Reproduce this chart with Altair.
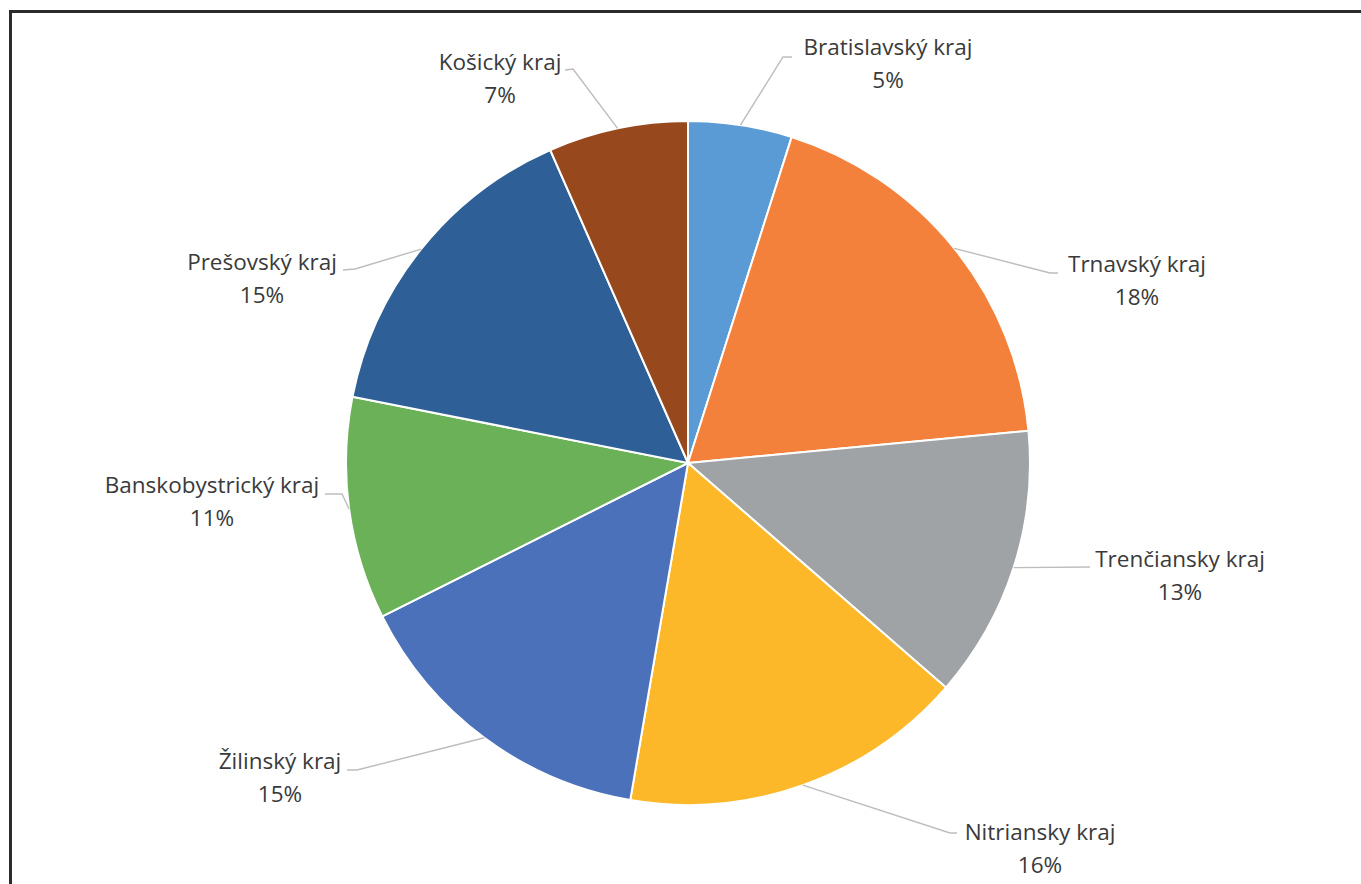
import math
import altair as alt
import pandas as pd

# ---- data ----
regions = ["Bratislavský kraj", "Trnavský kraj", "Trenčiansky kraj", "Nitriansky kraj",
           "Žilinský kraj", "Banskobystrický kraj", "Prešovský kraj", "Košický kraj"]
shares = [4.9, 18.6, 12.9, 16.3, 14.9, 10.5, 15.3, 6.6]
pct_labels = ["5%", "18%", "13%", "16%", "15%", "11%", "15%", "7%"]
colors = ["#5B9BD5", "#F3813B", "#A0A3A6", "#FCB829", "#4A71B9", "#6AB158", "#2E5F96", "#97491D"]

# ---- layout (pixels, relative to the pie centre; y grows downward) ----
W, H = 1361, 884
CX, CY = 688, 463
R = 342
label_pos = [(200, -408), (449, -191), (492, 104), (352, 377),
             (-408, 306), (-476, 30), (-426, -193), (-188, -393)]
elbow_pos = [(95, -406), (362, -190), (402, 104), (262, 370),
             (-331, 307), (-346, 31), (-333, -194), (-115, -394)]
tail_pos = [(104, -406), (370, -190), (402, 104), (269, 370),
            (-341, 307), (-363, 31), (-345, -193), (-123, -393)]

total = sum(shares)
pie = pd.DataFrame({"region": regions, "share": shares, "idx": range(len(regions))})

# leader line starts at the slice mid-angle on the rim
rows, lab_rows = [], []
cum = 0.0
for i, (reg, s) in enumerate(zip(regions, shares)):
    mid = (cum + s / 2) / total * 2 * math.pi
    cum += s
    sx, sy = R * math.sin(mid), -R * math.cos(mid)
    pts = [(sx, sy), elbow_pos[i], tail_pos[i]]
    for k, (px, py) in enumerate(pts):
        rows.append({"region": reg, "k": k, "px": px, "py": py})
    lab_rows.append({"region": reg, "px": label_pos[i][0], "py": label_pos[i][1],
                     "txt": reg + "\n" + pct_labels[i]})
leaders = pd.DataFrame(rows)
labels = pd.DataFrame(lab_rows)

xs = alt.Scale(domain=[-CX, W - CX], range=[0, W])
ys = alt.Scale(domain=[-CY, H - CY], range=[0, H])

arcs = alt.Chart(pie).mark_arc(radius=R, stroke="white", strokeWidth=2).encode(
    theta=alt.Theta("share:Q", stack=True),
    order=alt.Order("idx:Q"),
    color=alt.Color("region:N", scale=alt.Scale(domain=regions, range=colors), legend=None),
    x=alt.value(CX),
    y=alt.value(CY),
)

lines = alt.Chart(leaders).mark_line(color="#BDBDBD", strokeWidth=1.4).encode(
    x=alt.X("px:Q", scale=xs, axis=None),
    y=alt.Y("py:Q", scale=ys, axis=None),
    detail="region:N",
    order="k:Q",
)

texts = alt.Chart(labels).mark_text(
    font="Open Sans", fontSize=22.5, color="#3A3A3A", align="center",
    baseline="alphabetic", lineBreak="\n", lineHeight=33,
).encode(
    x=alt.X("px:Q", scale=xs, axis=None),
    y=alt.Y("py:Q", scale=ys, axis=None),
    text="txt:N",
)

frame_top = alt.Chart(pie).mark_rule(color="#2B2B2B", strokeWidth=3).encode(
    x=alt.value(9), x2=alt.value(W), y=alt.value(11.5))
frame_left = alt.Chart(pie).mark_rule(color="#2B2B2B", strokeWidth=3).encode(
    x=alt.value(10.5), y=alt.value(10), y2=alt.value(H))

chart = alt.layer(arcs, lines, texts, frame_top, frame_left).properties(
    width=W, height=H, padding=0, autosize=alt.AutoSizeParams(type="none"),
    background="white",
).configure_view(stroke=None)

chart.save("out.html", embed_options={"renderer": "svg", "actions": False})
